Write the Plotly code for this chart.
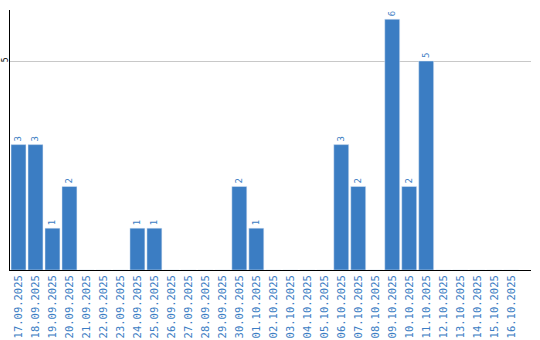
import plotly.graph_objects as go

dates = ["17.09.2025","18.09.2025","19.09.2025","20.09.2025","21.09.2025","22.09.2025",
         "23.09.2025","24.09.2025","25.09.2025","26.09.2025","27.09.2025","28.09.2025",
         "29.09.2025","30.09.2025","01.10.2025","02.10.2025","03.10.2025","04.10.2025",
         "05.10.2025","06.10.2025","07.10.2025","08.10.2025","09.10.2025","10.10.2025",
         "11.10.2025","12.10.2025","13.10.2025","14.10.2025","15.10.2025","16.10.2025"]
values = [3,3,1,2,0,0,0,1,1,0,0,0,0,2,1,0,0,0,0,3,2,0,6,2,5,0,0,0,0,0]

blue = "#3b7dc3"
labels = [str(v) if v > 0 else "" for v in values]

fig = go.Figure(go.Bar(
    x=list(range(len(dates))), y=values, marker_color=blue,
    text=labels, textposition="outside", textangle=-90,
    textfont=dict(color=blue, size=9, family="DejaVu Sans Mono"),
    cliponaxis=False,
))
fig.update_layout(
    width=540, height=340, margin=dict(l=10, r=9, t=10, b=70),
    paper_bgcolor="white", plot_bgcolor="white", bargap=0.12, showlegend=False,
    xaxis=dict(tickmode="array", tickvals=list(range(len(dates))), ticktext=dates,
               tickangle=-90, range=[-0.5, 30.17], showgrid=False, automargin=False,
               showline=True, linecolor="black", linewidth=1, ticks="",
               tickfont=dict(color=blue, size=10.5, family="DejaVu Sans Mono")),
    yaxis=dict(range=[0, 6.22], tickvals=[5], ticktext=["5"], tickangle=-90,
               showgrid=True, gridcolor="#c8c8c8", gridwidth=1, zeroline=False,
               automargin=False, ticklabelstandoff=-2,
               showline=True, linecolor="black", linewidth=1, ticks="",
               tickfont=dict(color="black", size=8, family="DejaVu Sans Mono")),
)
fig.write_html("out.html")
